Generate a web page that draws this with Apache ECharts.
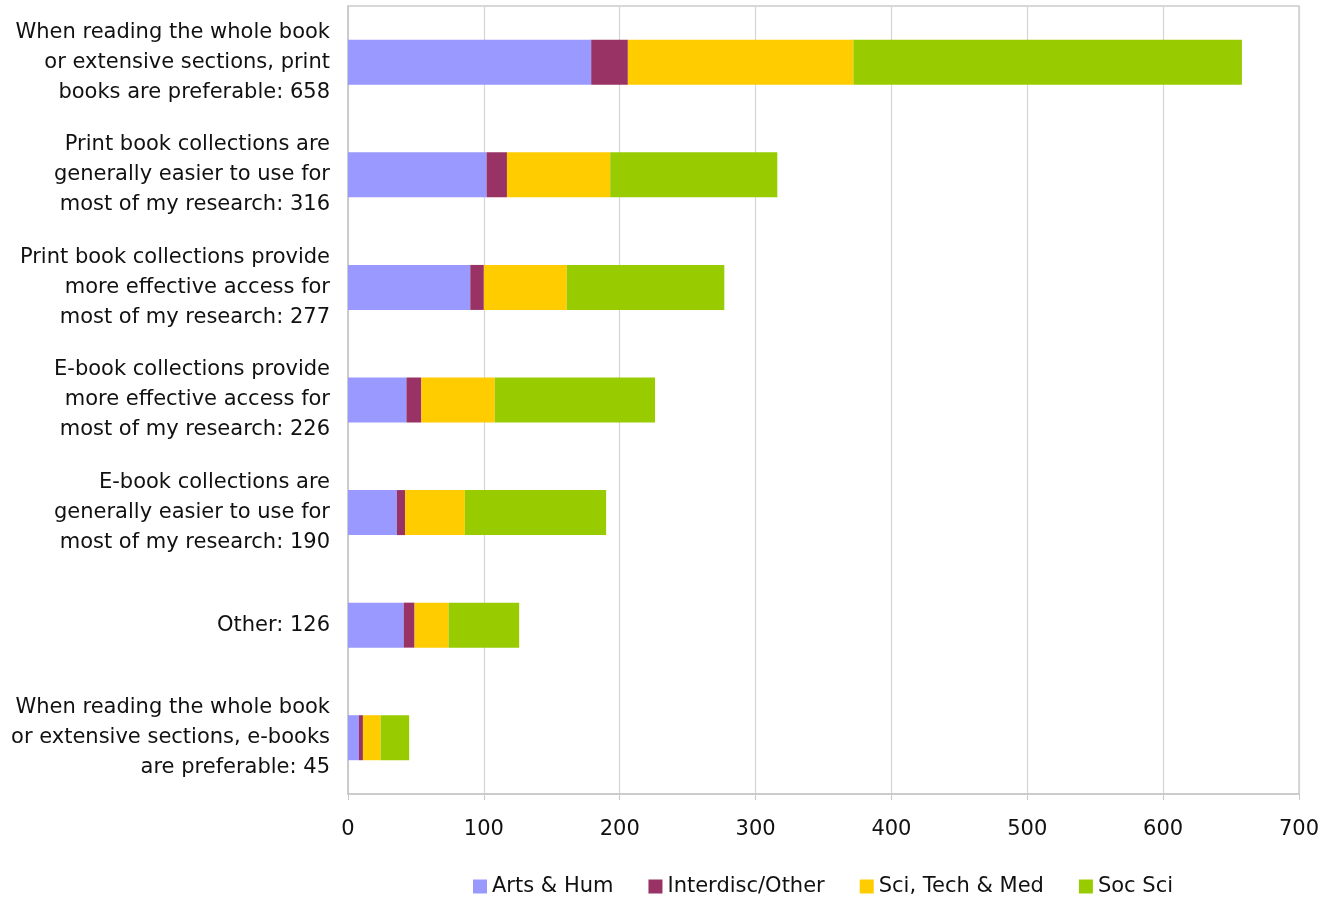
<!DOCTYPE html>
<html>
<head>
<meta charset="utf-8">
<title>Print vs e-book preferences by discipline</title>
<script src="https://cdn.jsdelivr.net/npm/echarts@6/dist/echarts.min.js"></script>
<style>
  html, body { margin: 0; padding: 0; background: #ffffff; }
  #chart { width: 1330px; height: 898px; }
</style>
</head>
<body>
<div id="chart"></div>
<script>
// Response categories (top to bottom)
const categories = [
  'When reading the whole book\nor extensive sections, print\nbooks are preferable: 658',
  'Print book collections are\ngenerally easier to use for\nmost of my research: 316',
  'Print book collections provide\nmore effective access for\nmost of my research: 277',
  'E-book collections provide\nmore effective access for\nmost of my research: 226',
  'E-book collections are\ngenerally easier to use for\nmost of my research: 190',
  'Other: 126',
  'When reading the whole book\nor extensive sections, e-books\nare preferable: 45'
];

// Respondent counts per discipline group
const artsHum      = [179, 102, 90, 43, 36, 41, 8];
const interdisc    = [27, 15, 10, 11, 6, 8, 3];
const sciTechMed   = [166, 76, 61, 54, 44, 25, 13];
const socSci       = [286, 123, 116, 118, 104, 52, 21];

const seriesNames  = ['Arts & Hum', 'Interdisc/Other', 'Sci, Tech & Med', 'Soc Sci'];
const seriesColors = ['#9999FF', '#993366', '#FFCC00', '#99CC00'];
const seriesData   = [artsHum, interdisc, sciTechMed, socSci];

const chart = echarts.init(document.getElementById('chart'), null, { renderer: 'canvas' });

const font = '"DejaVu Sans", Arial, sans-serif';

chart.setOption({
  animation: false,
  backgroundColor: '#ffffff',
  textStyle: { fontFamily: font },
  grid: {
    left: 348, right: 31, top: 6, bottom: 104,
    show: true, borderColor: '#cccccc', borderWidth: 1.5
  },
  legend: {
    top: 871,
    left: 468,
    itemWidth: 14,
    itemHeight: 14,
    itemGap: 35,
    icon: 'rect',
    textStyle: { fontSize: 21, color: '#111', fontFamily: font },
    data: seriesNames
  },
  xAxis: {
    type: 'value',
    min: 0, max: 700, interval: 100,
    axisLine: { show: true, lineStyle: { color: '#c8c8c8', width: 1.5 } },
    axisTick: { show: true, length: 6, lineStyle: { color: '#c8c8c8' } },
    axisLabel: { fontSize: 21, color: '#111', margin: 25, fontFamily: font },
    splitLine: { show: true, lineStyle: { color: '#d4d4d4', width: 1.2 } }
  },
  yAxis: {
    type: 'category',
    inverse: true,
    data: categories,
    axisLine: { show: true, lineStyle: { color: '#c8c8c8', width: 1.5 } },
    axisTick: { show: false },
    axisLabel: {
      fontSize: 21, color: '#111', lineHeight: 30, margin: 18,
      align: 'right', fontFamily: font
    }
  },
  series: seriesData.map((d, i) => ({
    name: seriesNames[i],
    type: 'bar',
    stack: 'total',
    data: d,
    barWidth: 45,
    itemStyle: { color: seriesColors[i] }
  }))
});
</script>
</body>
</html>
